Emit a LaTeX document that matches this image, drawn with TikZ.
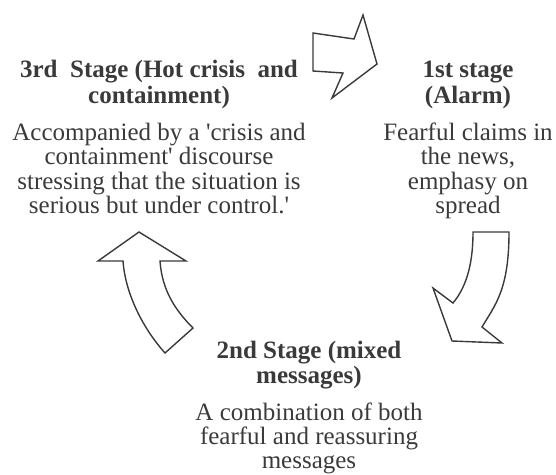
\documentclass[tikz,border=0pt]{standalone}
\usepackage{fontspec}
\setmainfont{Liberation Serif}[Ligatures=TeXOff]
\usetikzlibrary{positioning}
\definecolor{inkgray}{HTML}{3A3A3A}
\tikzset{
  title/.style={align=center,inner sep=0pt,anchor=base,text=inkgray,font=\fontsize{25}{26}\selectfont\bfseries},
  body/.style={align=center,inner sep=0pt,anchor=base,text=inkgray,font=\fontsize{25}{24.5}\selectfont},
  bigarrow/.style={draw=inkgray,line width=1.4pt,line join=miter,fill=white}
}
\begin{document}
\begin{tikzpicture}[x=1pt,y=-1pt]
  \useasboundingbox (0,0) rectangle (556,474);
  % stage texts (placed by the baseline of their last line)
  \node[title] (third) at (159,103) {3rd\ \ Stage (Hot crisis\ \ and\\containment)};
  \node[body] (thirdtext) at (159,213.5) {Accompanied by a 'crisis and\\containment' discourse\\stressing that the situation is\\serious but under control.'};
  \node[title] (first) at (468,103) {1st stage\\(Alarm)};
  \node[body] (firsttext) at (468,213.5) {Fearful claims in\\the news,\\emphasy on\\spread};
  \node[title,font=\fontsize{25}{25}\selectfont\bfseries] (second) at (309,383) {2nd Stage (mixed\\messages)};
  \node[body,font=\fontsize{25}{24}\selectfont] (secondtext) at (309,468) {A combination of both\\fearful and reassuring\\messages};
  % block arrows
  \draw[bigarrow] (313,33) -- (354,39) -- (363,15) -- (377,64) -- (332,98) -- (343,73) -- (313,71) -- cycle;
  \draw[bigarrow] (473,232) -- (509,232) .. controls (509,290) and (495,305) .. (482,327)
    -- (502,343) -- (452,341) -- (433,288) -- (453,303)
    .. controls (468,285) and (473,260) .. cycle;
  \draw[bigarrow] (139,232) -- (186,261) -- (160,261) .. controls (162,290) and (175,310) .. (193,328)
    -- (165,353) .. controls (140,325) and (125,290) .. (123,261) -- (98,261) -- cycle;
\end{tikzpicture}
\end{document}
